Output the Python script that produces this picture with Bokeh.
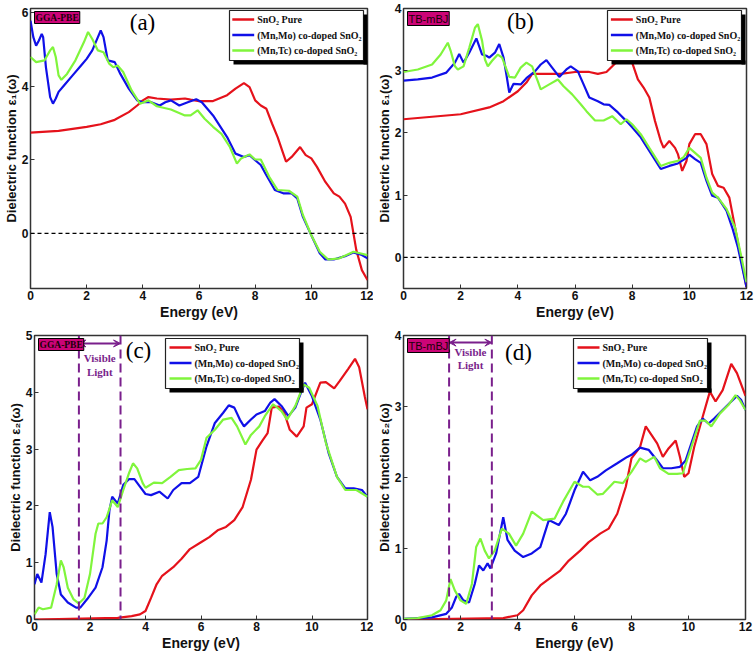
from bokeh.plotting import figure
from bokeh.models import Span, Label, Arrow, VeeHead, FixedTicker, Range1d, BoxAnnotation
from bokeh.core.properties import value
from bokeh.layouts import column, row
from bokeh.embed import file_html
from bokeh.resources import INLINE

# ---------------- data: panel (a) GGA-PBE, eps1 ----------------
a_pure_e = [0, 1, 2, 2.5, 3, 3.5, 3.8, 4.0, 4.2, 4.5, 5, 5.5, 5.7, 6, 6.5, 7, 7.3, 7.6, 7.8, 8.0, 8.2, 8.4,
            8.6, 8.8, 9.0, 9.1, 9.3, 9.6, 9.8, 10.0, 10.2, 10.5, 10.8, 11.0, 11.2, 11.4, 11.5, 11.6, 11.8, 12.0]
a_pure = [2.74, 2.79, 2.90, 2.97, 3.09, 3.30, 3.48, 3.62, 3.71, 3.67, 3.64, 3.67, 3.64, 3.60, 3.60, 3.76, 3.94,
          4.09, 3.98, 3.62, 3.48, 3.39, 2.99, 2.62, 2.17, 1.95, 2.08, 2.35, 2.13, 2.04, 1.81, 1.40, 1.09, 1.0,
          0.81, 0.45, 0.0, -0.45, -1.0, -1.27]
a_mo_e = [0, 0.1, 0.2, 0.3, 0.4, 0.45, 0.55, 0.7, 0.8, 0.9, 1.0, 1.2, 1.5, 1.8, 2.0, 2.2, 2.4, 2.5, 2.6, 2.75,
          3.0, 3.2, 3.5, 3.8, 4.0, 4.3, 4.6, 4.8, 5.0, 5.3, 5.6, 5.9, 6.1, 6.5, 7.0, 7.3, 7.6, 7.8, 8.0, 8.2,
          8.4, 8.7, 9.0, 9.3, 9.5, 9.7, 10.0, 10.3, 10.5, 10.8, 11.2, 11.5, 11.8, 12.0]
a_mo = [5.79, 5.34, 5.11, 5.25, 5.43, 5.34, 4.52, 3.71, 3.53, 3.67, 3.85, 4.03, 4.30, 4.57, 4.75, 4.98, 5.34,
        5.52, 5.34, 4.71, 4.66, 4.34, 3.94, 3.62, 3.57, 3.57, 3.48, 3.57, 3.62, 3.48, 3.57, 3.65, 3.57, 3.21,
        2.62, 2.17, 2.08, 2.13, 1.99, 1.86, 1.58, 1.18, 1.09, 1.09, 0.95, 0.45, -0.05, -0.54, -0.71, -0.71,
        -0.62, -0.52, -0.59, -0.68]
a_tc_e = [0, 0.2, 0.5, 0.7, 0.8, 0.9, 1.0, 1.1, 1.3, 1.6, 1.9, 2.05, 2.2, 2.4, 2.6, 2.8, 2.95, 3.1, 3.3, 3.6,
          3.9, 4.2, 4.5, 5.0, 5.5, 5.7, 5.95, 6.2, 6.5, 6.8, 7.1, 7.35, 7.5, 7.8, 8.0, 8.2, 8.5, 8.8, 9.2, 9.5,
          9.7, 10.0, 10.3, 10.6, 11.0, 11.5, 12.0]
a_tc = [4.80, 4.66, 4.71, 4.98, 5.07, 4.80, 4.30, 4.18, 4.34, 4.71, 5.20, 5.48, 5.29, 4.98, 4.93, 4.62, 4.52,
        4.57, 4.39, 3.89, 3.53, 3.62, 3.46, 3.37, 3.21, 3.21, 3.35, 3.12, 2.90, 2.71, 2.35, 1.90, 2.04, 2.15,
        2.01, 2.01, 1.54, 1.18, 1.16, 1.0, 0.50, -0.05, -0.50, -0.71, -0.68, -0.50, -0.59]

# ---------------- data: panel (b) TB-mBJ, eps1 ----------------
b_pure_e = [0, 1, 2, 3, 3.5, 4.0, 4.3, 4.5, 5, 5.5, 6.0, 6.5, 6.8, 7.1, 7.5, 7.75, 7.9, 8.0, 8.2, 8.4, 8.6,
            8.8, 9.0, 9.1, 9.3, 9.5, 9.6, 9.75, 9.9, 10.0, 10.2, 10.4, 10.6, 10.8, 11.0, 11.2, 11.4, 11.6,
            11.8, 12.0]
b_pure = [2.22, 2.26, 2.30, 2.41, 2.51, 2.67, 2.81, 2.95, 2.95, 2.95, 2.98, 2.98, 2.95, 2.98, 3.16, 3.45, 3.45,
          3.13, 2.86, 2.73, 2.57, 2.19, 1.87, 1.76, 1.87, 1.76, 1.66, 1.39, 1.55, 1.82, 1.98, 1.98, 1.82,
          1.34, 1.15, 1.12, 0.96, 0.48, 0.0, -0.48]
b_mo_e = [0, 0.5, 1.0, 1.5, 1.8, 1.95, 2.1, 2.3, 2.55, 2.75, 2.9, 3.0, 3.2, 3.35, 3.5, 3.6, 3.7, 3.85, 4.1,
          4.3, 4.6, 4.8, 5.0, 5.2, 5.45, 5.7, 5.85, 6.1, 6.3, 6.5, 6.8, 7.0, 7.2, 7.5, 7.8, 8.0, 8.3, 8.6,
          9.0, 9.3, 9.6, 9.9, 10.0, 10.2, 10.4, 10.6, 10.8, 11.0, 11.3, 11.5, 11.7, 11.85, 12.0]
b_mo = [2.84, 2.86, 2.89, 2.97, 3.13, 3.27, 3.13, 3.29, 3.52, 3.26, 3.24, 3.21, 3.29, 3.43, 3.21, 2.94, 2.65,
        2.79, 2.78, 2.88, 2.99, 3.10, 3.17, 3.05, 2.90, 3.02, 3.07, 2.99, 2.78, 2.57, 2.51, 2.46, 2.45, 2.33,
        2.19, 2.09, 1.93, 1.71, 1.42, 1.47, 1.51, 1.60, 1.65, 1.58, 1.52, 1.23, 0.99, 0.96, 0.75, 0.48,
        0.16, -0.16, -0.48]
b_tc_e = [0, 0.5, 1.0, 1.3, 1.55, 1.65, 1.8, 1.9, 2.1, 2.3, 2.5, 2.6, 2.75, 2.85, 2.95, 3.1, 3.3, 3.45, 3.7,
          3.9, 4.1, 4.3, 4.5, 4.7, 4.8, 5.1, 5.4, 5.6, 5.9, 6.2, 6.4, 6.7, 7.0, 7.3, 7.6, 7.8, 8.0, 8.3,
          8.6, 9.0, 9.3, 9.6, 9.8, 10.0, 10.2, 10.4, 10.6, 10.8, 11.0, 11.3, 11.6, 11.8, 12.0]
b_tc = [2.98, 3.02, 3.10, 3.26, 3.45, 3.32, 3.07, 3.02, 3.07, 3.37, 3.69, 3.75, 3.48, 3.18, 3.07, 3.16, 3.26,
        3.21, 2.90, 2.89, 3.05, 3.13, 3.07, 2.83, 2.70, 2.78, 2.86, 2.75, 2.62, 2.46, 2.35, 2.20, 2.20, 2.27,
        2.14, 2.22, 2.14, 1.98, 1.76, 1.47, 1.52, 1.55, 1.61, 1.76, 1.68, 1.60, 1.28, 1.04, 0.96, 0.78,
        0.48, 0.05, -0.40]

# ---------------- data: panel (c) GGA-PBE, eps2 ----------------
c_pure_e = [0, 3.0, 3.5, 3.8, 4.0, 4.2, 4.4, 4.6, 5.0, 5.3, 5.6, 6.0, 6.3, 6.6, 6.9, 7.2, 7.5, 7.8, 8.0, 8.2,
            8.4, 8.55, 8.8, 9.0, 9.2, 9.45, 9.7, 9.8, 10.0, 10.3, 10.5, 10.8, 11.0, 11.3, 11.55, 11.7, 11.9,
            12.0]
c_pure = [0.0, 0.03, 0.06, 0.09, 0.15, 0.38, 0.62, 0.77, 0.92, 1.07, 1.24, 1.36, 1.45, 1.57, 1.63, 1.75, 1.98,
          2.46, 2.99, 3.14, 3.28, 3.73, 3.75, 3.64, 3.34, 3.22, 3.40, 3.73, 3.79, 4.17, 4.18, 4.07, 4.20,
          4.41, 4.59, 4.44, 3.93, 3.70]
c_mo_e = [0, 0.1, 0.25, 0.4, 0.55, 0.65, 0.8, 0.95, 1.2, 1.5, 1.65, 1.9, 2.2, 2.45, 2.6, 2.7, 2.8, 3.0, 3.2,
          3.4, 3.6, 3.8, 4.0, 4.2, 4.5, 4.8, 5.0, 5.3, 5.6, 5.9, 6.2, 6.5, 6.8, 7.0, 7.2, 7.4, 7.55, 7.8,
          8.0, 8.3, 8.5, 8.65, 8.9, 9.15, 9.4, 9.6, 9.75, 10.0, 10.3, 10.6, 10.9, 11.2, 11.5, 11.8, 12.0]
c_mo = [0.62, 0.80, 0.65, 1.15, 1.89, 1.63, 0.80, 0.44, 0.30, 0.21, 0.21, 0.36, 0.56, 0.92, 1.39, 1.92, 2.16,
        2.04, 2.37, 2.47, 2.47, 2.34, 2.21, 2.19, 2.25, 2.13, 2.28, 2.40, 2.40, 2.51, 3.05, 3.46, 3.64, 3.77,
        3.73, 3.52, 3.40, 3.52, 3.61, 3.67, 3.82, 3.88, 3.76, 3.58, 3.73, 3.99, 4.17, 3.93, 3.52, 2.93, 2.51,
        2.31, 2.31, 2.28, 2.16]
c_tc_e = [0, 0.15, 0.3, 0.6, 0.8, 0.95, 1.05, 1.2, 1.4, 1.6, 1.8, 2.0, 2.2, 2.3, 2.45, 2.6, 2.8, 3.0, 3.2,
          3.4, 3.55, 3.7, 3.9, 4.0, 4.3, 4.6, 4.9, 5.2, 5.5, 5.8, 6.0, 6.2, 6.5, 6.8, 7.1, 7.3, 7.6, 7.8,
          8.1, 8.3, 8.6, 8.9, 9.1, 9.4, 9.7, 9.9, 10.2, 10.5, 10.9, 11.2, 11.6, 12.0]
c_tc = [0.09, 0.21, 0.18, 0.21, 0.62, 1.04, 0.92, 0.56, 0.36, 0.28, 0.38, 0.80, 1.51, 1.69, 1.69, 1.80, 2.10,
        1.98, 2.28, 2.57, 2.75, 2.66, 2.40, 2.32, 2.41, 2.40, 2.51, 2.63, 2.65, 2.66, 2.81, 3.20, 3.34, 3.52,
        3.55, 3.40, 3.08, 3.25, 3.40, 3.58, 3.79, 3.67, 3.52, 3.76, 4.14, 4.08, 3.76, 3.11, 2.51, 2.28,
        2.28, 2.16]

# ---------------- data: panel (d) TB-mBJ, eps2 ----------------
d_pure_e = [0, 3.5, 4.0, 4.2, 4.5, 4.8, 5.2, 5.5, 5.8, 6.2, 6.5, 6.9, 7.2, 7.5, 7.8, 8.0, 8.3, 8.5, 8.7, 8.9,
            9.1, 9.3, 9.55, 9.7, 9.85, 10.0, 10.2, 10.5, 10.75, 10.95, 11.2, 11.5, 11.7, 12.0]
d_pure = [0.0, 0.02, 0.06, 0.13, 0.34, 0.48, 0.60, 0.69, 0.83, 0.97, 1.09, 1.21, 1.28, 1.49, 1.87, 2.27, 2.43,
          2.72, 2.60, 2.48, 2.29, 2.41, 2.52, 2.29, 2.01, 2.06, 2.43, 2.86, 3.21, 3.07, 3.23, 3.60, 3.47, 3.15]
d_mo_e = [0, 0.5, 1.0, 1.5, 1.7, 1.85, 1.95, 2.1, 2.3, 2.5, 2.65, 2.8, 2.95, 3.05, 3.25, 3.5, 3.65, 3.9, 4.2,
          4.5, 4.8, 5.1, 5.45, 5.7, 6.0, 6.3, 6.55, 6.8, 7.1, 7.5, 7.85, 8.0, 8.3, 8.6, 8.9, 9.1, 9.4, 9.7,
          9.9, 10.1, 10.3, 10.5, 10.7, 10.9, 11.2, 11.5, 11.7, 11.85, 12.0]
d_mo = [0.01, 0.02, 0.03, 0.08, 0.17, 0.32, 0.36, 0.27, 0.24, 0.50, 0.76, 0.69, 0.79, 0.72, 0.93, 1.44, 1.12,
        0.97, 0.88, 0.93, 1.02, 1.40, 1.33, 1.49, 1.82, 2.08, 1.96, 2.01, 2.10, 2.20, 2.29, 2.32, 2.42, 2.39,
        2.24, 2.13, 2.13, 2.15, 2.24, 2.48, 2.72, 2.83, 2.76, 2.83, 2.95, 3.07, 3.15, 3.09, 2.95]
d_tc_e = [0, 0.5, 1.0, 1.3, 1.5, 1.65, 1.8, 2.0, 2.2, 2.4, 2.55, 2.7, 2.85, 3.0, 3.2, 3.45, 3.7, 3.95, 4.2,
          4.5, 4.7, 4.9, 5.3, 5.6, 6.0, 6.3, 6.5, 6.8, 7.0, 7.4, 7.7, 8.0, 8.3, 8.5, 8.8, 9.0, 9.3, 9.6, 9.8,
          10.1, 10.4, 10.6, 10.8, 11.1, 11.4, 11.65, 11.8, 12.0]
d_tc = [0.01, 0.02, 0.06, 0.13, 0.27, 0.57, 0.41, 0.27, 0.22, 0.50, 1.02, 1.14, 0.97, 0.86, 0.97, 1.28, 1.21,
        1.04, 1.21, 1.52, 1.46, 1.40, 1.42, 1.66, 1.94, 1.87, 1.87, 1.76, 1.77, 1.94, 1.92, 2.08, 2.27, 2.22,
        2.29, 2.13, 2.05, 2.05, 2.06, 2.43, 2.80, 2.80, 2.72, 2.90, 3.02, 3.16, 3.09, 2.95]

series_labels = ["SnO\u2082 Pure", "(Mn,Mo) co-doped SnO\u2082", "(Mn,Tc) co-doped SnO\u2082"]
x_ticks = [0, 2, 4, 6, 8, 10, 12]
visible_light = [1.6, 3.1]

RED = "#e5121b"
BLUE = "#1010e8"
GREEN = "#80f53c"
PURPLE = "#7a1f8c"
BADGE = "#cc0477"

LEG_W, LEG_H, SHADOW = 134, 50, 4


def screen_box(l, r, b, t, **kw):
    return BoxAnnotation(left=l, right=r, bottom=b, top=t,
                         left_units="screen", right_units="screen",
                         bottom_units="screen", top_units="screen", **kw)


def make_panel(cfg):
    fw = cfg["w"] - cfg["bl"] - cfg["br"]
    fh = cfg["h"] - cfg["bt"] - cfg["bb"]
    x0, x1 = 0, 12
    y0, y1 = cfg["yr"]
    p = figure(width=cfg["w"], height=cfg["h"], output_backend="svg", toolbar_location=None,
               x_range=Range1d(x0, x1), y_range=Range1d(y0, y1),
               min_border_left=cfg["bl"], min_border_right=cfg["br"],
               min_border_top=cfg["bt"], min_border_bottom=cfg["bb"])
    p.background_fill_color = "white"
    p.border_fill_color = "white"
    p.outline_line_color = "#333333"
    p.outline_line_width = 1.5
    p.xgrid.visible = False
    p.ygrid.visible = False
    p.xaxis.ticker = FixedTicker(ticks=x_ticks)
    p.yaxis.ticker = FixedTicker(ticks=cfg["yt"])
    for ax in (p.xaxis[0], p.yaxis[0]):
        ax.axis_line_color = None
        ax.major_tick_in = 4
        ax.major_tick_out = 0
        ax.minor_tick_line_color = None
        ax.major_tick_line_color = "#333333"
        ax.major_label_text_font = "Liberation Sans"
        ax.major_label_text_font_style = "bold"
        ax.major_label_text_font_size = "12px"
        ax.major_label_text_color = "#111111"
        ax.major_label_standoff = 2
        ax.axis_label_text_font = "Liberation Sans"
        ax.axis_label_text_font_style = "bold"
        ax.axis_label_text_color = "#111111"
        ax.axis_label_standoff = 1
    p.xaxis.axis_label = "Energy (eV)"
    p.xaxis.axis_label_text_font_size = "14px"
    p.yaxis.axis_label = cfg["ylabel"]
    p.yaxis.axis_label_text_font_size = "13px"
    p.yaxis.axis_label_standoff = 0

    if cfg["zero"]:
        p.add_layout(Span(location=0, dimension="width", line_color="black",
                          line_dash="4 3", line_width=1.3))
    if cfg["visible"]:
        for v in visible_light:
            p.add_layout(Span(location=v, dimension="height", line_color=PURPLE,
                              line_dash="9 5", line_width=2))
        p.add_layout(Arrow(start=VeeHead(size=7, line_color=PURPLE, fill_color=PURPLE),
                           end=VeeHead(size=7, line_color=PURPLE, fill_color=PURPLE),
                           x_start=visible_light[0], x_end=visible_light[1],
                           y_start=cfg["arrow_y"], y_end=cfg["arrow_y"],
                           line_color=PURPLE, line_width=2))
        xm = (visible_light[0] + visible_light[1]) / 2
        for txt, yy in (("Visible", cfg["vis_y"][0]), ("Light", cfg["vis_y"][1])):
            p.add_layout(Label(x=xm, y=yy, text=txt, text_align="center", text_baseline="middle",
                               text_font="Liberation Serif", text_font_style="bold",
                               text_font_size="11px", text_color=PURPLE))

    colors = (RED, BLUE, GREEN)
    for (xe, yv), col in zip(cfg["series"], colors):
        p.line(xe, yv, line_color=col, line_width=2.2)

    # legend placed by pixel offsets inside the frame
    lx = cfg["leg_x"] if cfg["leg_x"] is not None else fw - 6 - LEG_W
    ly = fh - cfg["leg_top"] - LEG_H
    sx = (x1 - x0) / fw
    sy = (y1 - y0) / fh

    def X(px):
        return x0 + px * sx

    def Y(py):
        return y0 + py * sy

    l, r, b, t = lx, lx + LEG_W, ly, ly + LEG_H
    # opaque white box behind the keys
    p.quad(left=[X(l)], right=[X(r)], bottom=[Y(b)], top=[Y(t)],
           fill_color="white", line_color=None)
    rows_y = [Y(t - 9 - 15.5 * i) for i in range(3)]
    p.segment(x0=[X(l + 4)] * 3, x1=[X(l + 26)] * 3, y0=rows_y, y1=rows_y,
              line_color=list(colors), line_width=2.5)
    p.text(x=[X(l + 29)] * 3, y=rows_y, text=series_labels, text_baseline="middle",
           text_align="left", text_font=value("Liberation Serif"), text_font_style="bold",
           text_font_size=value("10px"), text_color="#111111")

    # border and drop-shadow strips as screen-unit annotations (frame relative, y up)
    p.add_layout(screen_box(l, r, b, t, fill_alpha=0, line_color="#222222", line_width=1.2,
                            line_alpha=1))
    p.add_layout(screen_box(r, r + SHADOW, b - SHADOW, t - SHADOW, fill_color="black",
                            fill_alpha=1, line_color=None))
    p.add_layout(screen_box(l + SHADOW, r + SHADOW, b - SHADOW, b, fill_color="black",
                            fill_alpha=1, line_color=None))

    # badge
    p.add_layout(Label(x=4, y=fh - 3, x_units="screen", y_units="screen", text=cfg["badge"],
                       text_align="left", text_baseline="top",
                       text_font=cfg["badge_font"], text_font_style=cfg["badge_style"],
                       text_font_size=cfg["badge_size"], text_color="#1a0008",
                       background_fill_color=BADGE, border_line_color="black",
                       border_line_width=1, padding=1))
    # panel tag
    p.add_layout(Label(x=cfg["tag_xy"][0], y=fh - cfg["tag_xy"][1], x_units="screen",
                       y_units="screen", text=cfg["tag"], text_align="center",
                       text_baseline="middle", text_font="Liberation Serif",
                       text_font_size="23px", text_color="black"))
    return p


EPS1 = "Dielectric function \u03b5\u2081(\u03c9)"
EPS2 = "Dielectric function \u03b5\u2082(\u03c9)"

pa = make_panel(dict(w=373, h=323, bl=28, br=6, bt=8, bb=35, yr=(-1.5, 6.12), yt=[0, 2, 4, 6],
                     ylabel=EPS1, zero=True, visible=False,
                     series=[(a_pure_e, a_pure), (a_mo_e, a_mo), (a_tc_e, a_tc)],
                     badge="GGA-PBE", badge_font="Liberation Serif", badge_style="bold",
                     badge_size="9.5px", tag="(a)", tag_xy=(112, 14), leg_x=None, leg_top=2))
pb = make_panel(dict(w=383, h=323, bl=29, br=10, bt=8, bb=35, yr=(-0.5, 4.0), yt=[0, 1, 2, 3, 4],
                     ylabel=EPS1, zero=True, visible=False,
                     series=[(b_pure_e, b_pure), (b_mo_e, b_mo), (b_tc_e, b_tc)],
                     badge="TB-mBJ", badge_font="Liberation Sans", badge_style="normal",
                     badge_size="11px", tag="(b)", tag_xy=(117, 13), leg_x=None, leg_top=2))
pc = make_panel(dict(w=373, h=331, bl=34, br=6, bt=12, bb=35, yr=(0, 5.0), yt=[0, 1, 2, 3, 4, 5],
                     ylabel=EPS2, zero=False, visible=True, arrow_y=4.86, vis_y=(4.6, 4.35),
                     series=[(c_pure_e, c_pure), (c_mo_e, c_mo), (c_tc_e, c_tc)],
                     badge="GGA-PBE", badge_font="Liberation Serif", badge_style="bold",
                     badge_size="9.5px", tag="(c)", tag_xy=(104, 15), leg_x=131, leg_top=3))
pd_ = make_panel(dict(w=383, h=331, bl=30, br=11, bt=12, bb=35, yr=(0, 4.0), yt=[0, 1, 2, 3, 4],
                      ylabel=EPS2, zero=False, visible=True, arrow_y=3.9, vis_y=(3.77, 3.59),
                      series=[(d_pure_e, d_pure), (d_mo_e, d_mo), (d_tc_e, d_tc)],
                      badge="TB-mBJ", badge_font="Liberation Sans", badge_style="normal",
                      badge_size="11px", tag="(d)", tag_xy=(115, 17), leg_x=170, leg_top=3))

layout = column(row(pa, pb), row(pc, pd_))
open("out.html", "w").write(file_html(layout, INLINE))
